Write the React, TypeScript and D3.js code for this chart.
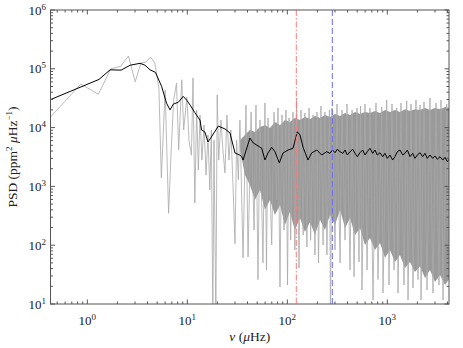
import React from 'react';
import * as d3 from 'd3';

// Raw PSD (grey), vertices (µHz, ppm^2/µHz)
const grayFreq = [
  0.43, 0.86, 1.29, 1.72, 2.15, 2.58, 3.01, 3.44, 3.87, 4.3, 4.73, 5.2, 5.5, 6.0, 6.5, 6.9, 7.3, 7.8, 8.2, 8.8,
  9.2, 9.9, 10.4, 11.0, 11.4, 11.9, 12.4, 12.9, 13.4, 14.0, 14.7, 15.4, 16.1, 16.8, 17.4, 18.0, 18.5, 19.3, 19.9, 20.6,
  21.7, 22.7, 23.8, 24.9, 26.1, 27.3, 28.6, 30.0, 31.1, 32.4, 33.6, 36.1, 38.6, 40.5, 43.4, 46.5, 48.6, 50.9, 53.3, 57.1,
  59.8, 61.9, 64.1, 69.8, 73.6, 78.3, 80.7, 84.5, 88.5, 92.7, 97.0, 100.5, 104, 108, 114, 119, 124, 131, 137, 144,
  150, 157, 165, 171, 181, 189, 198, 205, 217, 228, 238, 249, 264, 270, 280, 300, 314, 337, 352, 378,
  395, 424, 444, 465, 498, 521, 540, 558, 598, 627, 671, 720, 771, 807, 879, 906, 986, 1040, 1114, 1167,
  1242, 1279, 1371, 1469, 1563, 1611, 1726, 1807, 1936, 2028, 2123, 2173, 2328, 2495, 2673, 2864, 3069, 3289, 3443, 3606,
  3926, 4140,
];
const grayPSD = [
  1.52e4, 5.5e4, 3.7e4, 1.0e5, 1.1e5, 1.65e5, 6.0e4, 1.26e5, 1.3e5, 1.58e5, 1.26e5, 4.7e4, 1.4e3, 4.3e4, 350, 4.2e3, 2.9e4, 5.7e4, 4.2e3, 6.5e4,
  9.1e3, 3.3e4, 6.1e3, 3.4e3, 7.0e4, 520, 2.0e4, 1.9e3, 1.63e4, 2.8e3, 1.1e4, 1.55e3, 7.5e3, 870, 9.1e3, 5, 6.1e3, 5, 3.6e4, 2.8e3,
  1.34e4, 4.2e3, 1.7e3, 1.63e4, 2.8e3, 9.1e3, 1.1e3, 106, 6.1e3, 1.3e3, 1.34e4, 61, 2.4e4, 63, 1.84e4, 181, 2.42e4, 26, 1.35e4, 50,
  2.62e4, 38, 1.46e4, 101, 1.84e4, 587, 2.15e4, 19.5, 1.64e4, 181, 1.99e4, 21, 1.46e4, 122, 1.84e4, 83, 3.2e4, 41, 1.99e4, 149,
  1.77e4, 93, 2.15e4, 122, 1.64e4, 68, 1.84e4, 50, 2.33e4, 101, 1.84e4, 68, 1.99e4, 5, 2.15e4, 83, 2.52e4, 50, 1.99e4, 122,
  2.52e4, 38, 1.99e4, 29, 2.15e4, 52, 2.33e4, 17.3, 2.52e4, 38, 2.15e4, 11.7, 2.62e4, 26, 2.24e4, 15.4, 2.95e4, 21, 2.52e4, 38,
  2.15e4, 15.4, 2.62e4, 21, 2.84e4, 11.7, 2.52e4, 18.7, 2.95e4, 26, 2.42e4, 11.7, 2.73e4, 17.3, 3.2e4, 15.4, 2.62e4, 21, 2.95e4, 11.7,
  2.52e4, 26,
];

// Dense part of the raw PSD (envelope of the filled grey band)
const bandFreq = [
  33.6, 37.7, 42.3, 47.5, 53.3, 59.8, 67.1, 75.3, 84.5, 94.8, 106, 119, 134, 150, 169, 189, 212, 238, 267, 300,
  337, 378, 424, 476, 533, 598, 671, 753, 845, 948, 1063, 1193, 1339, 1503, 1686, 1892, 2122, 2382, 2672, 3000,
  3364, 3776, 4140,
];
const bandTop = [
  6.1e3, 7.5e3, 9.1e3, 8.4e3, 1.02e4, 1.1e4, 9.8e3, 1.25e4, 1.1e4, 1.35e4, 1.25e4, 1.46e4, 1.35e4, 1.52e4, 1.4e4, 1.58e4, 1.46e4, 1.64e4, 1.52e4, 1.7e4,
  1.58e4, 1.77e4, 1.64e4, 1.84e4, 1.7e4, 1.84e4, 1.77e4, 1.91e4, 1.77e4, 1.99e4, 1.84e4, 1.99e4, 1.84e4, 2.06e4, 1.91e4, 2.06e4, 1.99e4, 2.15e4, 1.99e4, 2.15e4,
  2.06e4, 2.24e4, 2.15e4,
];
const bandBottom = [
  4.2e3, 1.56e3, 1.06e3, 587, 870, 400, 587, 327, 483, 221, 367, 181, 290, 168, 248, 149, 270, 181, 327, 221,
  400, 196, 290, 149, 196, 101, 132, 83, 109, 61, 83, 52, 68, 41, 52, 35, 44, 27.7, 38, 23.7,
  31, 21, 26,
];

// Smoothed PSD (black)
const smoothFreq = [
  0.43, 1.31, 1.69, 2.18, 2.68, 3.37, 3.78, 4.24, 4.8, 5.54, 6.2, 6.72, 7.24, 8.13, 9.1, 9.9, 10.7, 11.9, 13.4, 13.9,
  15.0, 16.1, 17.4, 20.4, 23.8, 26.7, 30.0, 33.6, 35, 36.1, 42.3, 45.6, 55.5, 59.8, 64.1, 69.8, 75.3, 83.2, 90.6, 102,
  114, 126, 134, 144, 161, 175, 197, 221, 248, 267, 283, 300, 316, 337, 359, 378, 398, 424, 451, 476,
  501, 533, 567, 598, 630, 671, 714, 753, 794, 845, 899, 948, 1000, 1063, 1131, 1193, 1259, 1339, 1425, 1503,
  1585, 1686, 1794, 1892, 1995, 2122, 2258, 2382, 2512, 2672, 2844, 3000, 3162, 3364, 3580, 3776, 3981, 4140,
];
const smoothPSD = [
  3.0e4, 6.6e4, 9.6e4, 9.5e4, 1.15e5, 1.24e5, 1.15e5, 9.6e4, 8.7e4, 5.0e4, 2.6e4, 2.0e4, 2.5e4, 2.7e4, 3.4e4, 2.9e4, 2.4e4, 1.8e4, 1.34e4, 9.1e3,
  8.4e3, 5.7e3, 6.9e3, 1.06e4, 9.5e3, 8.1e3, 3.7e3, 3.4e3, 3.2e3, 2.81e3, 6.65e3, 5.5e3, 4.45e3, 2.81e3, 3.7e3, 4.6e3, 3.89e3, 2.5e3, 3.7e3, 4.16e3,
  4.45e3, 8.5e3, 7.5e3, 4.6e3, 2.81e3, 3.7e3, 4.16e3, 3.42e3, 3.89e3, 3.65e3, 4.16e3, 3.74e3, 4.28e3, 3.89e3, 3.65e3, 4.16e3, 3.42e3, 3.89e3, 4.28e3, 3.65e3,
  3.2e3, 3.74e3, 4.16e3, 3.42e3, 3.89e3, 4.45e3, 3.65e3, 4.16e3, 3.42e3, 3.74e3, 3.2e3, 3.65e3, 3.0e3, 3.42e3, 2.81e3, 3.2e3, 3.89e3, 4.16e3, 3.42e3, 3.65e3,
  4.16e3, 3.2e3, 3.65e3, 3.0e3, 3.42e3, 3.74e3, 3.2e3, 3.65e3, 3.0e3, 3.42e3, 3.0e3, 3.29e3, 2.89e3, 3.2e3, 2.81e3, 3.12e3, 2.63e3, 2.89e3,
];

const redMarker = 123;
const blueMarker = 282;
const xTickExps = [0, 1, 2, 3];
const yTickExps = [1, 2, 3, 4, 5, 6];

const FONT = '"Liberation Serif", "Times New Roman", Times, serif';

export default function App() {
  const W = 463, H = 348;
  const left = 50.5, right = 449, top = 10, bottom = 304;
  const x = d3.scaleLog().domain([0.4285, 4140]).range([left, right]);
  const y = d3.scaleLog().domain([10, 1e6]).range([bottom, top]);

  const grayData = grayFreq.map((f, i) => [f, grayPSD[i]] as [number, number]);
  const smoothData = smoothFreq.map((f, i) => [f, smoothPSD[i]] as [number, number]);
  const bandData = bandFreq.map((f, i) => ({ f, t: bandTop[i], b: bandBottom[i] }));

  const line = d3.line<[number, number]>().x(d => x(d[0])).y(d => y(d[1]));
  const area = d3.area<{ f: number; t: number; b: number }>()
    .x(d => x(d.f)).y0(d => y(d.b)).y1(d => y(d.t));

  const xMinor: number[] = [];
  for (let e = -1; e <= 3; e++) for (let k = 2; k <= 9; k++) {
    const v = k * Math.pow(10, e);
    if (v > 0.4285 && v < 4140) xMinor.push(v);
  }
  const yMinor: number[] = [];
  for (let e = 1; e <= 5; e++) for (let k = 2; k <= 9; k++) yMinor.push(k * Math.pow(10, e));

  const axisColor = '#555';
  const maj = 4.5, mnr = 2.5;

  return (
    <svg width={W} height={H} style={{ position: 'absolute', left: 0, top: 0, background: '#fff' }}
      fontFamily={FONT}>
      <defs>
        <clipPath id="plotclip">
          <rect x={left} y={top} width={right - left} height={bottom - top} />
        </clipPath>
      </defs>
      <g clipPath="url(#plotclip)">
        <path d={area(bandData) || ''} fill="#9a9a9a" />
        <path d={line(grayData) || ''} fill="none" stroke="#a8a8a8" strokeWidth={0.8} />
        <path d={line(smoothData) || ''} fill="none" stroke="#000" strokeWidth={1} />
        <line x1={x(redMarker)} x2={x(redMarker)} y1={top} y2={bottom} stroke="#ff7a7a" strokeWidth={1}
          strokeDasharray="6,2,1.5,2" />
        <line x1={x(blueMarker)} x2={x(blueMarker)} y1={top} y2={bottom} stroke="#6a6aff" strokeWidth={1}
          strokeDasharray="6,3" />
      </g>
      <rect x={left} y={top} width={right - left} height={bottom - top} fill="none" stroke={axisColor} strokeWidth={1} />
      {xTickExps.map(e => {
        const px = x(Math.pow(10, e));
        return (
          <g key={'xt' + e}>
            <line x1={px} x2={px} y1={bottom} y2={bottom - maj} stroke={axisColor} />
            <line x1={px} x2={px} y1={top} y2={top + maj} stroke={axisColor} />
            <text x={px} y={325} textAnchor="middle" fontSize={13} fill="#222">
              10<tspan dy={-5} fontSize={9}>{e}</tspan>
            </text>
          </g>
        );
      })}
      {xMinor.map((v, i) => {
        const px = x(v);
        return (
          <g key={'xm' + i}>
            <line x1={px} x2={px} y1={bottom} y2={bottom - mnr} stroke={axisColor} />
            <line x1={px} x2={px} y1={top} y2={top + mnr} stroke={axisColor} />
          </g>
        );
      })}
      {yTickExps.map(e => {
        const py = y(Math.pow(10, e));
        return (
          <g key={'yt' + e}>
            <line x1={left} x2={left + maj} y1={py} y2={py} stroke={axisColor} />
            <line x1={right} x2={right - maj} y1={py} y2={py} stroke={axisColor} />
            <text x={46} y={py + 4.5} textAnchor="end" fontSize={13} fill="#222">
              10<tspan dy={-5} fontSize={9}>{e}</tspan>
            </text>
          </g>
        );
      })}
      {yMinor.map((v, i) => {
        const py = y(v);
        return (
          <g key={'ym' + i}>
            <line x1={left} x2={left + mnr} y1={py} y2={py} stroke={axisColor} />
            <line x1={right} x2={right - mnr} y1={py} y2={py} stroke={axisColor} />
          </g>
        );
      })}
      <text x={(left + right) / 2} y={341} textAnchor="middle" fontSize={13.5} fill="#222">
        <tspan fontStyle="italic">ν</tspan> (<tspan fontStyle="italic">μ</tspan>Hz)
      </text>
      <text transform={`translate(17,${(top + bottom) / 2}) rotate(-90)`} textAnchor="middle" fontSize={13.5} fill="#222">
        PSD (ppm<tspan dy={-5} fontSize={9}>2</tspan><tspan dy={5}> </tspan><tspan fontStyle="italic">μ</tspan>Hz<tspan dy={-5} fontSize={9}>−1</tspan><tspan dy={5}>)</tspan>
      </text>
    </svg>
  );
}
